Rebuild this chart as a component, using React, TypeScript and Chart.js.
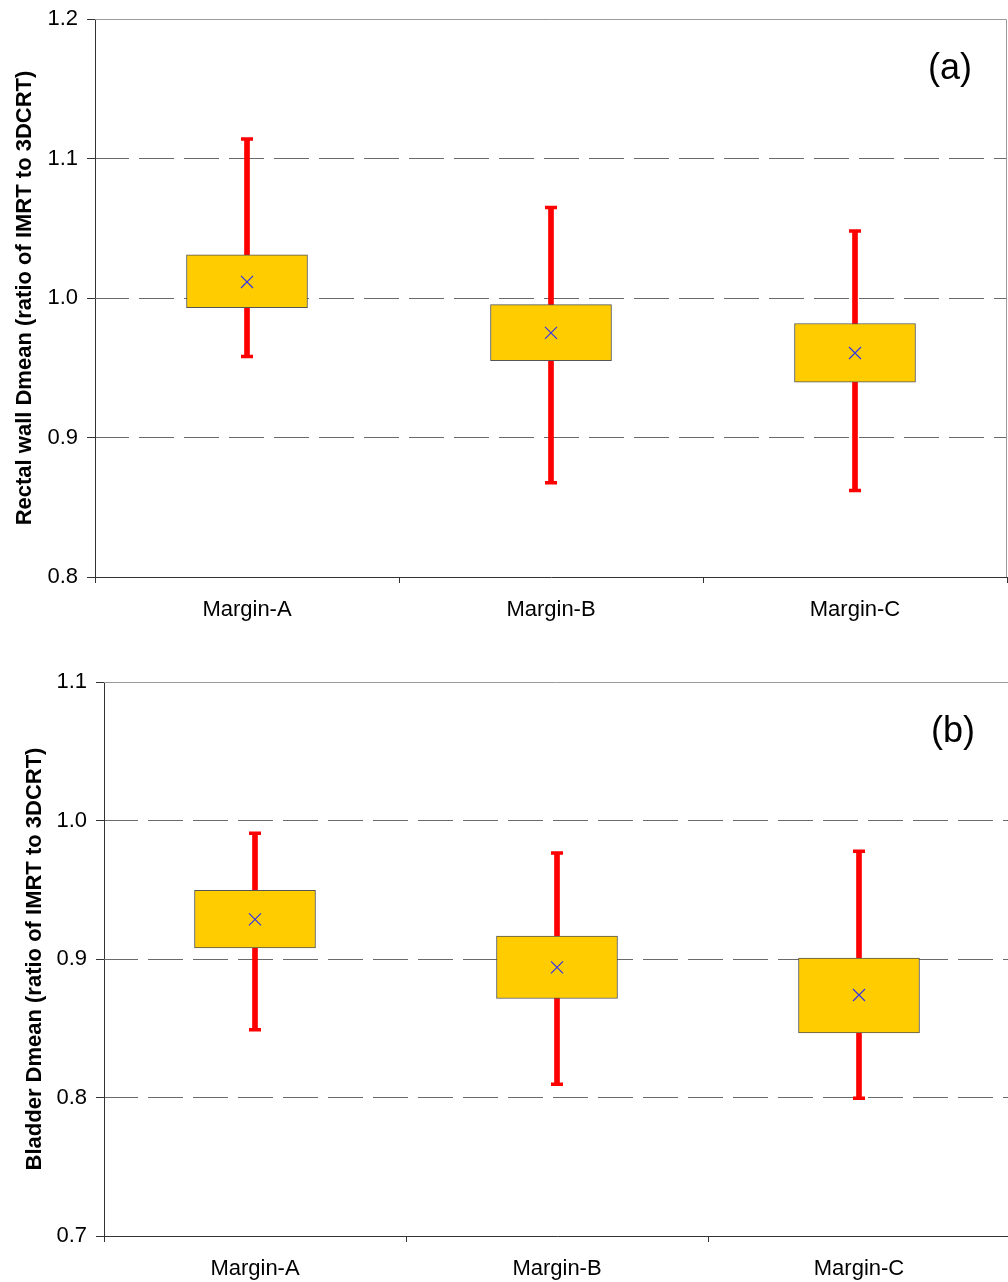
import React, { useEffect, useRef } from "react";
import { Chart, registerables } from "chart.js";

Chart.register(...registerables);

const FONT = "'Liberation Sans', Arial, sans-serif";

const categories = ["Margin-A", "Margin-B", "Margin-C"];

// (a) Rectal wall Dmean ratio
const rectalMin = [0.958, 0.8675, 0.862];
const rectalQ1 = [0.993, 0.955, 0.9396];
const rectalQ3 = [1.031, 0.9953, 0.9817];
const rectalMax = [1.114, 1.0648, 1.048];
const rectalMean = [1.0115, 0.975, 0.9606];
const rectalTicks = [0.8, 0.9, 1.0, 1.1, 1.2];

// (b) Bladder Dmean ratio
const bladderMin = [0.849, 0.8096, 0.7995];
const bladderQ1 = [0.908, 0.8715, 0.8467];
const bladderQ3 = [0.9496, 0.9166, 0.9007];
const bladderMax = [0.9908, 0.9766, 0.9778];
const bladderMean = [0.9286, 0.894, 0.874];
const bladderTicks = [0.7, 0.8, 0.9, 1.0, 1.1];

type PanelSpec = {
  min: number[];
  q1: number[];
  q3: number[];
  max: number[];
  mean: number[];
  ticks: number[];
  title: string;
  label: string;
  padTop: number;
  padRight: number;
  yWidth: number;
  xHeight: number;
  titlePad: number;
};

const frameAndLabel = {
  id: "frameAndLabel",
  afterDatasetsDraw(chart: any, _args: any, opts: any) {
    const { ctx, chartArea } = chart;
    const top = Math.round(chartArea.top) + 0.5;
    const right = Math.round(chartArea.right) - 0.5;
    ctx.save();
    ctx.strokeStyle = "#9a9a9a";
    ctx.lineWidth = 1;
    ctx.beginPath();
    ctx.moveTo(chartArea.left, top);
    ctx.lineTo(right, top);
    ctx.lineTo(right, chartArea.bottom);
    ctx.stroke();
    ctx.fillStyle = "#000";
    ctx.font = `36px ${FONT}`;
    ctx.textAlign = "center";
    ctx.textBaseline = "middle";
    ctx.fillText(opts.text, chartArea.right - 57, chartArea.top + 50);
    ctx.restore();
  },
};

function makeConfig(p: PanelSpec): any {
  const lo = p.ticks[0];
  const hi = p.ticks[p.ticks.length - 1];
  return {
    type: "bar",
    data: {
      labels: categories,
      datasets: [
        {
          type: "bar",
          data: p.min.map((m, i) => [m, p.max[i]]),
          backgroundColor: "#FF0000",
          borderWidth: 0,
          barThickness: 5,
          grouped: false,
          order: 3,
        },
        {
          type: "bar",
          data: p.q1.map((q, i) => [q, p.q3[i]]),
          backgroundColor: "#FFCC00",
          borderColor: "#555555",
          borderWidth: 1,
          borderSkipped: false,
          barThickness: 121,
          grouped: false,
          order: 2,
        },
        {
          type: "line",
          data: p.max,
          showLine: false,
          pointStyle: "line",
          pointRadius: 6,
          pointHoverRadius: 6,
          pointBorderWidth: 3.5,
          pointBorderColor: "#FF0000",
          pointBackgroundColor: "#FF0000",
          borderColor: "#FF0000",
          order: 1,
        },
        {
          type: "line",
          data: p.min,
          showLine: false,
          pointStyle: "line",
          pointRadius: 6,
          pointHoverRadius: 6,
          pointBorderWidth: 3.5,
          pointBorderColor: "#FF0000",
          pointBackgroundColor: "#FF0000",
          borderColor: "#FF0000",
          order: 1,
        },
        {
          type: "line",
          data: p.mean,
          showLine: false,
          pointStyle: "crossRot",
          pointRadius: 8.5,
          pointHoverRadius: 8.5,
          pointBorderWidth: 1.2,
          pointBorderColor: "#3535E8",
          borderColor: "#3535E8",
          order: 0,
        },
      ],
    },
    options: {
      responsive: false,
      animation: false,
      events: [],
      layout: {
        autoPadding: false,
        padding: { top: p.padTop, right: p.padRight, left: 0, bottom: 0 },
      },
      plugins: {
        legend: { display: false },
        tooltip: { enabled: false },
        frameAndLabel: { text: p.label },
      },
      scales: {
        x: {
          type: "category",
          offset: true,
          grid: {
            offset: true,
            drawOnChartArea: false,
            drawTicks: true,
            tickLength: 6,
            tickColor: "#333333",
          },
          border: { display: true, color: "#333333", width: 1 },
          ticks: {
            color: "#000",
            font: { family: FONT, size: 22 },
            padding: 14,
            maxRotation: 0,
          },
          afterFit: (s: any) => {
            s.height = p.xHeight;
            s.paddingLeft = 0;
            s.paddingRight = 0;
          },
        },
        y: {
          type: "linear",
          min: lo,
          max: hi,
          afterBuildTicks: (s: any) => {
            s.ticks = p.ticks.map((v) => ({ value: v }));
          },
          afterFit: (s: any) => {
            s.width = p.yWidth;
            s.paddingTop = 0;
            s.paddingBottom = 0;
          },
          grid: {
            color: (c: any) => {
              const v = c.tick ? c.tick.value : 0;
              if (Math.abs(v - lo) < 1e-6 || Math.abs(v - hi) < 1e-6) return "rgba(0,0,0,0)";
              return "#6a6a6a";
            },
            lineWidth: 1,
            drawTicks: true,
            tickLength: 8,
            tickColor: "#333333",
          },
          border: { display: true, color: "#333333", width: 1, dash: [35, 10], dashOffset: 2 },
          ticks: {
            color: "#000",
            font: { family: FONT, size: 22 },
            padding: 9,
            callback: (v: any) => Number(v).toFixed(1),
          },
          title: {
            display: true,
            text: p.title,
            color: "#000",
            font: { family: FONT, size: 22, weight: "bold" },
            padding: { top: p.titlePad, bottom: 0 },
          },
        },
      },
    },
    plugins: [frameAndLabel],
  };
}

function Panel(props: { spec: PanelSpec; width: number; height: number; top: number }) {
  const ref = useRef<HTMLCanvasElement | null>(null);
  useEffect(() => {
    if (!ref.current) return;
    const chart = new Chart(ref.current, makeConfig(props.spec));
    return () => chart.destroy();
  }, []);
  return (
    <canvas
      ref={ref}
      width={props.width}
      height={props.height}
      style={{
        position: "absolute",
        left: 0,
        top: props.top,
        width: props.width,
        height: props.height,
        display: "block",
      }}
    />
  );
}

const rectalSpec: PanelSpec = {
  min: rectalMin,
  q1: rectalQ1,
  q3: rectalQ3,
  max: rectalMax,
  mean: rectalMean,
  ticks: rectalTicks,
  title: "Rectal wall Dmean (ratio of IMRT to 3DCRT)",
  label: "(a)",
  padTop: 19,
  padRight: 1,
  yWidth: 95,
  xHeight: 63,
  titlePad: 12,
};

const bladderSpec: PanelSpec = {
  min: bladderMin,
  q1: bladderQ1,
  q3: bladderQ3,
  max: bladderMax,
  mean: bladderMean,
  ticks: bladderTicks,
  title: "Bladder Dmean (ratio of IMRT to 3DCRT)",
  label: "(b)",
  padTop: 42,
  padRight: 0,
  yWidth: 104,
  xHeight: 46,
  titlePad: 22,
};

export default function App() {
  return (
    <div
      style={{
        position: "absolute",
        left: 0,
        top: 0,
        width: 1008,
        height: 1282,
        overflow: "hidden",
        background: "#ffffff",
      }}
    >
      <Panel spec={rectalSpec} width={1008} height={640} top={0} />
      <Panel spec={bladderSpec} width={1010} height={642} top={640} />
    </div>
  );
}
